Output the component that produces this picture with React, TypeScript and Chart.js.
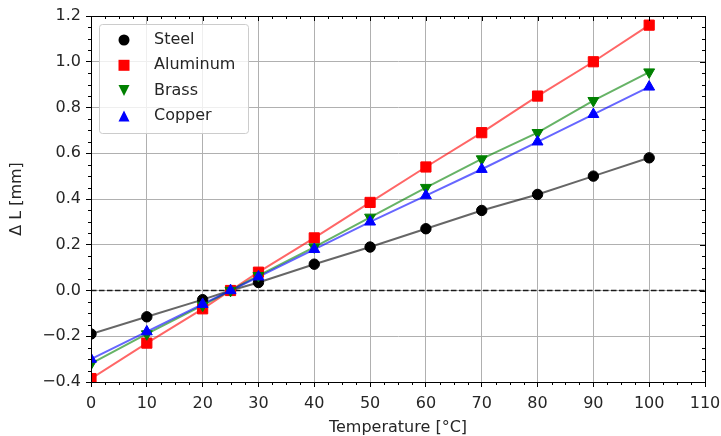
import React, { useEffect, useRef } from 'react';
import { Chart, registerables } from 'chart.js';

Chart.register(...registerables);

// ---- data ----
const temperatures = [0, 10, 20, 25, 30, 40, 50, 60, 70, 80, 90, 100];
const steel = [-0.19, -0.115, -0.04, 0, 0.035, 0.115, 0.19, 0.27, 0.35, 0.42, 0.5, 0.58];
const aluminum = [-0.385, -0.23, -0.08, 0, 0.08, 0.23, 0.385, 0.54, 0.69, 0.85, 1.0, 1.16];
const brass = [-0.32, -0.19, -0.065, 0, 0.065, 0.19, 0.32, 0.45, 0.575, 0.69, 0.83, 0.955];
const copper = [-0.3, -0.18, -0.06, 0, 0.06, 0.18, 0.3, 0.415, 0.53, 0.65, 0.77, 0.89];

const seriesNames = ['Steel', 'Aluminum', 'Brass', 'Copper'];
const seriesValues = [steel, aluminum, brass, copper];
const seriesColors = ['#000000', '#ff0000', '#008000', '#0000ff'];
const lineColors = ['rgba(0,0,0,0.6)', 'rgba(255,0,0,0.6)', 'rgba(0,128,0,0.6)', 'rgba(0,0,255,0.6)'];
const markerShapes = ['circle', 'rect', 'triangleDown', 'triangle'];

const xTitle = 'Temperature [°C]';
const yTitle = 'Δ L [mm]';

const FONT = 'DejaVu Sans';
const TEXT = '#262626';

function drawMarker(ctx: CanvasRenderingContext2D, shape: string, x: number, y: number, color: string) {
  ctx.save();
  ctx.fillStyle = color;
  ctx.beginPath();
  if (shape === 'circle') {
    ctx.arc(x, y, 5.5, 0, Math.PI * 2);
  } else if (shape === 'rect') {
    ctx.rect(x - 5.5, y - 5.5, 11, 11);
  } else if (shape === 'triangleDown') {
    ctx.moveTo(x - 5.5, y - 5.5);
    ctx.lineTo(x + 5.5, y - 5.5);
    ctx.lineTo(x, y + 5.5);
    ctx.closePath();
  } else {
    ctx.moveTo(x - 5.5, y + 5.5);
    ctx.lineTo(x + 5.5, y + 5.5);
    ctx.lineTo(x, y - 5.5);
    ctx.closePath();
  }
  ctx.fill();
  ctx.restore();
}

const decorPlugin = {
  id: 'decor',
  beforeDatasetsDraw(chart: any) {
    const { ctx, chartArea, scales } = chart;
    const y0 = scales.y.getPixelForValue(0);
    ctx.save();
    ctx.strokeStyle = 'rgba(0,0,0,0.85)';
    ctx.lineWidth = 1.3;
    ctx.setLineDash([5.5, 2.5]);
    ctx.beginPath();
    ctx.moveTo(chartArea.left, y0);
    ctx.lineTo(chartArea.right, y0);
    ctx.stroke();
    ctx.restore();
  },
  afterDatasetsDraw(chart: any) {
    const { ctx, chartArea, scales } = chart;
    const { left, right, top, bottom } = chartArea;
    const xs = scales.x;
    const ys = scales.y;
    ctx.save();
    ctx.strokeStyle = '#000';
    ctx.lineWidth = 1;
    // frame
    ctx.beginPath();
    ctx.rect(Math.round(left) + 0.5, Math.round(top) + 0.5, Math.round(right - left), Math.round(bottom - top));
    ctx.stroke();
    // ticks
    ctx.beginPath();
    for (let i = 0; i <= 44; i++) {
      const v = xs.min + i * 2.5;
      const px = Math.round(xs.getPixelForValue(v)) + 0.5;
      const major = i % 4 === 0;
      const len = major ? 5 : 3;
      if (!major) {
        ctx.moveTo(px, bottom);
        ctx.lineTo(px, bottom + len);
      }
      ctx.moveTo(px, top);
      ctx.lineTo(px, top + len);
    }
    for (let i = 0; i <= 32; i++) {
      const v = ys.min + i * 0.05;
      const py = Math.round(ys.getPixelForValue(v)) + 0.5;
      const major = i % 4 === 0;
      const len = major ? 5 : 3;
      if (!major) {
        ctx.moveTo(left, py);
        ctx.lineTo(left - len, py);
      }
      ctx.moveTo(right, py);
      ctx.lineTo(right - len, py);
    }
    ctx.stroke();
    ctx.restore();

    // legend
    const lx = left + 8, ly = top + 8, lw = 149, lh = 109;
    ctx.save();
    ctx.fillStyle = 'rgba(255,255,255,0.8)';
    ctx.strokeStyle = '#cccccc';
    ctx.lineWidth = 1;
    ctx.beginPath();
    (ctx as any).roundRect(lx + 0.5, ly + 0.5, lw, lh, 3);
    ctx.fill();
    ctx.stroke();
    ctx.font = `16px "${FONT}"`;
    ctx.textBaseline = 'middle';
    ctx.fillStyle = TEXT;
    for (let i = 0; i < seriesNames.length; i++) {
      const cy = ly + 16 + i * 25.3;
      drawMarker(ctx, markerShapes[i], lx + 25, cy, seriesColors[i]);
      ctx.fillStyle = TEXT;
      ctx.fillText(seriesNames[i], lx + 55, cy);
    }
    ctx.restore();
  },
};

export default function App() {
  const ref = useRef<HTMLCanvasElement | null>(null);
  useEffect(() => {
    document.body.style.margin = '0';
    const canvas = ref.current!;
    const lineSets = seriesValues.map((vals, i) => ({
      label: seriesNames[i] + ' line',
      data: temperatures.map((t, j) => ({ x: t, y: vals[j] })),
      showLine: true,
      borderColor: lineColors[i],
      borderWidth: 2,
      pointRadius: 0,
      fill: false,
      order: 10 + (3 - i),
    }));
    const pointSets = seriesValues.map((vals, i) => {
      const shape = markerShapes[i];
      return {
        label: seriesNames[i],
        data: temperatures.map((t, j) => ({ x: t, y: vals[j] })),
        showLine: false,
        backgroundColor: seriesColors[i],
        borderColor: seriesColors[i],
        pointBackgroundColor: seriesColors[i],
        pointBorderColor: seriesColors[i],
        pointBorderWidth: 1,
        pointStyle: shape === 'triangleDown' ? 'triangle' : shape,
        pointRotation: shape === 'triangleDown' ? 180 : 0,
        pointRadius: shape === 'circle' ? 5.2 : shape === 'rect' ? 7.2 : 6.3,
        order: 3 - i,
      };
    });
    const tickFont = { family: FONT, size: 16 };
    const chart = new Chart(canvas, {
      type: 'scatter',
      data: { datasets: [...lineSets, ...pointSets] as any },
      options: {
        animation: false,
        responsive: false,
        maintainAspectRatio: false,
        events: [],
        layout: { padding: { top: 16, right: 16, left: 0, bottom: 0 } },
        plugins: { legend: { display: false }, tooltip: { enabled: false } },
        scales: {
          x: {
            type: 'linear',
            min: 0,
            max: 110,
            ticks: { stepSize: 10, color: TEXT, font: tickFont, padding: 7, maxRotation: 0 },
            grid: { color: '#b0b0b0', lineWidth: 1, tickLength: 5, tickColor: '#000', tickWidth: 1 },
            border: { display: true, color: '#000', width: 1 },
            title: { display: true, text: xTitle, color: TEXT, font: tickFont, padding: { top: 0, bottom: -1 } },
            afterFit: (s: any) => { s.height = 54; s.paddingLeft = 0; s.paddingRight = 0; },
          },
          y: {
            type: 'linear',
            min: -0.4,
            max: 1.2,
            ticks: {
              stepSize: 0.2,
              color: TEXT,
              font: tickFont,
              padding: 5,
              callback: (v: any) => {
                const n = Number(v);
                const s = Math.abs(n).toFixed(1);
                return n < -1e-9 ? '\u2212' + s : s;
              },
            },
            grid: { color: '#b0b0b0', lineWidth: 1, tickLength: 5, tickColor: '#000', tickWidth: 1 },
            border: { display: true, color: '#000', width: 1 },
            title: { display: true, text: yTitle, color: TEXT, font: tickFont, padding: { top: 7, bottom: 0 } },
            afterFit: (s: any) => { s.width = 91; s.paddingTop = 0; s.paddingBottom = 0; },
          },
        },
      } as any,
      plugins: [decorPlugin],
    });
    return () => chart.destroy();
  }, []);
  return <canvas ref={ref} width={721} height={436} style={{ display: 'block', width: 721, height: 436 }} />;
}
